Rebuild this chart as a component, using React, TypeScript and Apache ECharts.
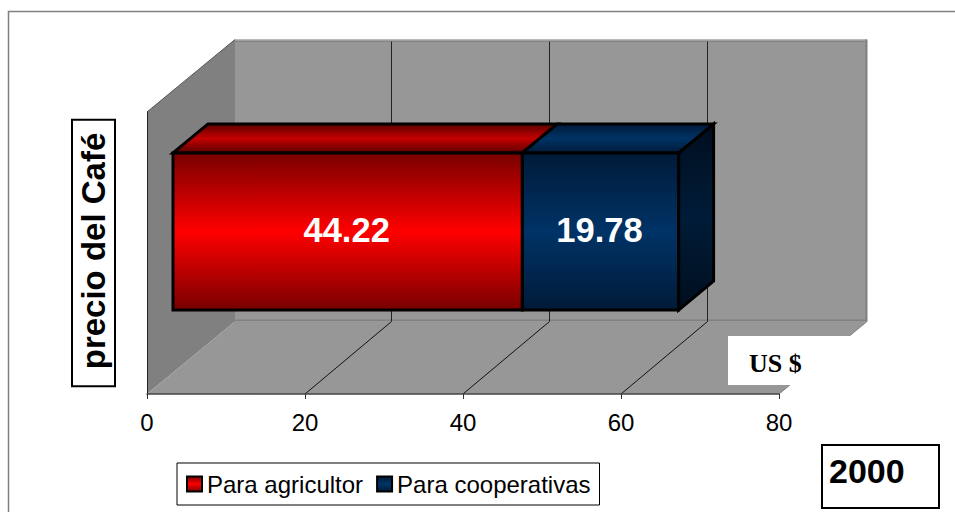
import React, { useEffect, useRef } from "react";
import * as echarts from "echarts";

const categories = ["precio del Café"];
const seriesNames = ["Para agricultor", "Para cooperativas"];
const agricultor = [44.22];
const cooperativas = [19.78];
const ticks = [0, 20, 40, 60, 80];

const grad = (a: string, b: string, c: string = a) =>
  new echarts.graphic.LinearGradient(0, 0, 0, 1, [
    { offset: 0, color: a },
    { offset: 0.5, color: b },
    { offset: 1, color: c },
  ]);

const WALL_DX = 88;
const WALL_DY = -72.5;
const GRID_DX = 86.5;
const BAR_DX = 26;
const BAR_DY = -21.5;
const SIDE_DX = 35;
const SIDE_DY = -29;
const BAR_BAND = 0.557;
const FONT = "'Liberation Sans', Arial, sans-serif";

function renderWalls(params: any, api: any) {
  const cs = params.coordSys;
  const x0 = cs.x, y0 = cs.y, w = cs.width, h = cs.height;
  const bottom = y0 + h;
  const poly = (points: number[][], fill: any, stroke?: string, lineWidth = 1) => ({
    type: "polygon",
    shape: { points },
    style: { fill, stroke: stroke ?? "none", lineWidth },
  });
  const line = (x1: number, y1: number, x2: number, y2: number, stroke: string, lineWidth = 1) => ({
    type: "line",
    shape: { x1, y1, x2, y2 },
    style: { stroke, lineWidth, fill: "none" },
  });
  const backX = x0 + WALL_DX;
  const backTop = y0 + WALL_DY;
  const backBottom = bottom + WALL_DY;
  const children: any[] = [
    poly([[backX, backTop], [backX + w, backTop], [backX + w, backBottom], [backX, backBottom]], "#979797"),
    poly([[x0, y0], [backX, backTop], [backX, backBottom], [x0, bottom]], "#808080"),
    poly([[x0, bottom], [backX, backBottom], [backX + w, backBottom], [x0 + w, bottom]], "#979797"),
    line(x0, y0, backX, backTop, "#555555", 1),
    line(backX, backTop + 0.5, backX + w, backTop + 0.5, "#a8a8a8", 1),
    line(backX, backTop + 2, backX + w, backTop + 2, "#848484", 1),
    line(backX + w - 0.5, backTop, backX + w - 0.5, backBottom, "#808080", 2),
    line(backX, backBottom - 1, backX + w, backBottom - 1, "#808080", 2),
    line(backX + w, backBottom, x0 + w, bottom, "#808080", 1),
  ];
  ticks.forEach((t) => {
    if (t === 0 || t === 80) return;
    const x = api.coord([t, 0])[0];
    children.push(line(x, bottom, x + GRID_DX, backBottom, "#111111", 1));
    children.push(line(x + GRID_DX, backTop + 2, x + GRID_DX, backBottom, "#222222", 1));
  });
  return { type: "group", children };
}

const makeBarRender = (front: any, top: any, side: any, withSide: boolean) => (params: any, api: any) => {
  const start = api.coord([api.value(0), api.value(2)]);
  const end = api.coord([api.value(1), api.value(2)]);
  const bh = api.size([0, 1])[1] * BAR_BAND;
  const xl = start[0] + BAR_DX;
  const xr = end[0] + BAR_DX;
  const yt = start[1] + BAR_DY - bh / 2;
  const yb = yt + bh;
  const stroke = { stroke: "#000000", lineWidth: 3, lineJoin: "miter" };
  const children: any[] = [];
  if (withSide) {
    children.push({
      type: "polygon",
      shape: { points: [[xr, yt], [xr + SIDE_DX, yt + SIDE_DY], [xr + SIDE_DX, yb + SIDE_DY], [xr, yb]] },
      style: { fill: side, ...stroke },
    });
  }
  children.push({
    type: "polygon",
    shape: { points: [[xl, yt], [xl + SIDE_DX, yt + SIDE_DY], [xr + SIDE_DX, yt + SIDE_DY], [xr, yt]] },
    style: { fill: top, ...stroke },
  });
  children.push({
    type: "rect",
    shape: { x: xl, y: yt, width: xr - xl, height: bh },
    style: { fill: front, ...stroke },
  });
  children.push({
    type: "text",
    style: {
      x: (xl + xr) / 2 - 1,
      y: (yt + yb) / 2 - 2,
      text: (api.value(1) - api.value(0)).toFixed(2),
      fill: "#ffffff",
      font: `bold 34.5px ${FONT}`,
      align: "center",
      verticalAlign: "middle",
    },
  });
  return { type: "group", children };
};

export default function App() {
  const ref = useRef<HTMLDivElement>(null);
  useEffect(() => {
    document.body.style.margin = "0";
    document.body.style.overflow = "hidden";
    const chart = echarts.init(ref.current!, undefined, { renderer: "svg" });
    const redFront = grad("#780000", "#ff0000");
    const blueFront = grad("#001a38", "#003366");
    chart.setOption({
      animation: false,
      backgroundColor: "#ffffff",
      grid: { left: 147, top: 112, width: 632, height: 282 },
      xAxis: {
        type: "value",
        min: 0,
        max: 80,
        interval: 20,
        z: 5,
        splitLine: { show: false },
        axisLine: { show: true, lineStyle: { color: "#444444", width: 1.5 } },
        axisTick: { show: true, length: 5, lineStyle: { color: "#333333" } },
        axisLabel: { margin: 16, color: "#000000", fontSize: 24, fontFamily: FONT },
      },
      yAxis: {
        type: "category",
        data: categories,
        z: 5,
        name: categories[0],
        nameLocation: "middle",
        nameRotate: 90,
        nameGap: 33,
        nameTextStyle: {
          color: "#000000",
          fontSize: 33,
          fontWeight: "bold",
          fontFamily: FONT,
          borderColor: "#000000",
          borderWidth: 2,
          padding: [4, 12, 4, 16],
          backgroundColor: "#ffffff",
        },
        axisLine: { show: true, lineStyle: { color: "#222222", width: 1 } },
        axisTick: { show: false },
        axisLabel: { show: false },
        splitLine: { show: false },
      },
      legend: {
        left: 177,
        top: 463,
        orient: "horizontal",
        padding: [9, 9, 9, 9],
        itemGap: 13,
        itemWidth: 15,
        itemHeight: 15,
        borderColor: "#000000",
        borderWidth: 1,
        backgroundColor: "#ffffff",
        textStyle: { color: "#000000", fontSize: 24, fontFamily: FONT },
        data: [
          { name: seriesNames[0], icon: "rect", itemStyle: { color: redFront, borderColor: "#000", borderWidth: 2 } },
          { name: seriesNames[1], icon: "rect", itemStyle: { color: blueFront, borderColor: "#000", borderWidth: 2 } },
        ],
      },
      series: [
        {
          type: "custom",
          name: "walls",
          silent: true,
          z: 1,
          renderItem: renderWalls,
          encode: { x: 0, y: 1 },
          data: [[0, 0]],
        },
        {
          type: "custom",
          name: seriesNames[0],
          z: 2,
          renderItem: makeBarRender(redFront, grad("#5a0000", "#c40000"), null, false),
          encode: { x: [0, 1], y: 2 },
          data: agricultor.map((v, i) => [0, v, i]),
          itemStyle: { color: "#ff0000" },
        },
        {
          type: "custom",
          name: seriesNames[1],
          z: 3,
          renderItem: makeBarRender(blueFront, grad("#001a38", "#003366"), grad("#000e1e", "#001c38"), true),
          encode: { x: [0, 1], y: 2 },
          data: cooperativas.map((v, i) => [agricultor[i], agricultor[i] + v, i]),
          itemStyle: { color: "#003366" },
        },
      ],
      graphic: [
        {
          type: "polyline",
          silent: true,
          z: 0,
          shape: { points: [[8.5, 520], [8.5, 11.5], [955, 11.5]] },
          style: { fill: "none", stroke: "#808080", lineWidth: 1.5 },
        },
        { type: "rect", z: 10, shape: { x: 728, y: 336, width: 140, height: 49 }, style: { fill: "#ffffff" } },
        {
          type: "text",
          z: 11,
          x: 749,
          y: 363,
          style: {
            text: "US $",
            fill: "#000000",
            font: "bold 26px 'Liberation Serif', 'Times New Roman', serif",
            verticalAlign: "middle",
          },
        },
        {
          type: "rect",
          z: 10,
          shape: { x: 822, y: 445, width: 117, height: 63 },
          style: { fill: "#ffffff", stroke: "#000000", lineWidth: 2 },
        },
        {
          type: "text",
          z: 11,
          x: 829,
          y: 471,
          style: { text: "2000", fill: "#000000", font: `bold 34px ${FONT}`, verticalAlign: "middle" },
        },
      ],
    });
    return () => chart.dispose();
  }, []);
  return <div ref={ref} style={{ position: "absolute", left: 0, top: 0, width: 955, height: 512 }} />;
}
